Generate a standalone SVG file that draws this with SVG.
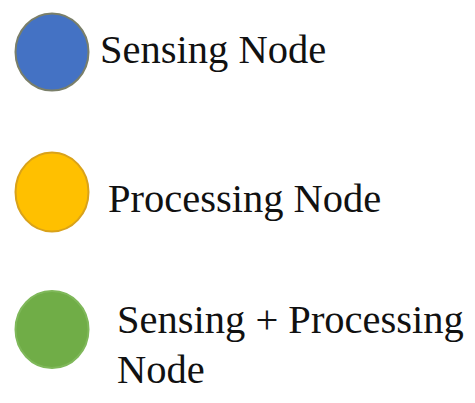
<svg xmlns="http://www.w3.org/2000/svg" width="475" height="403" viewBox="0 0 475 403">
<style>
.lbl{font-family:"Liberation Serif","Times New Roman",serif;font-size:40.5px;fill:#111}
.n{stroke-width:2}
</style>
<rect width="475" height="403" fill="#fff"/>
<g id="sensing">
<ellipse class="n" cx="52" cy="52" rx="36.5" ry="38.5" fill="#4472C4" stroke="#7a7f6a"/>
<text class="lbl" x="100" y="63">Sensing Node</text>
</g>
<g id="processing">
<ellipse class="n" cx="52" cy="192" rx="36.5" ry="39.5" fill="#FFC000" stroke="#D9A21A"/>
<text class="lbl" x="108" y="212">Processing Node</text>
</g>
<g id="sensing-processing">
<ellipse class="n" cx="52" cy="329.5" rx="36.5" ry="38.5" fill="#70AD47" stroke="#7fb85a"/>
<text class="lbl" x="117" y="333">Sensing + Processing</text>
<text class="lbl" x="117" y="383">Node</text>
</g>
<g id="connectors"/>
</svg>
